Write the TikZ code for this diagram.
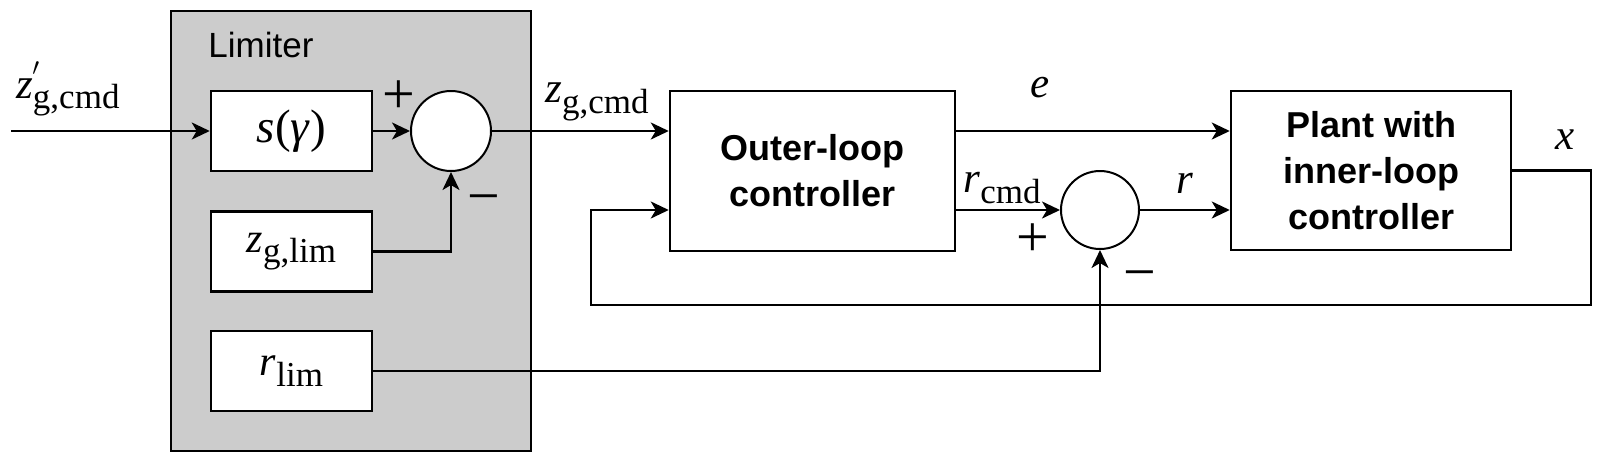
\documentclass[tikz,border=0pt]{standalone}
\usepackage{fontspec}
\setmainfont{Liberation Serif}
\newfontfamily\hv{Liberation Sans}
\usetikzlibrary{arrows.meta}
\definecolor{limgray}{HTML}{CCCCCC}
\newcommand\vsub[2]{{\itshape #1}\raisebox{-0.25em}{\fontsize{35}{35}\selectfont #2}}
\begin{document}
\begin{tikzpicture}[x=1pt,y=-1pt, line width=2.5pt,
  >={Stealth[length=18pt,width=17pt,inset=5pt]},
  blk/.style={draw, fill=white, minimum width=161pt, minimum height=80pt, inner sep=0pt, font=\fontsize{42}{42}\selectfont},
  sumc/.style={draw, circle, fill=white, minimum size=80pt, inner sep=0pt, line width=2pt},
  lbl/.style={inner sep=0pt, font=\fontsize{43}{43}\selectfont},
  sgn/.style={inner sep=0pt, font=\fontsize{58}{58}\selectfont},
  boldtxt/.style={draw, fill=white, inner sep=0pt, align=center, font=\hv\bfseries\fontsize{36}{46}\selectfont}]
\useasboundingbox (0,0) rectangle (1608,466);
% limiter
\node[draw, fill=limgray, minimum width=360pt, minimum height=440pt, inner sep=0pt] (lim) at (351,231) {};
\node[inner sep=0pt, font=\hv\fontsize{35}{35}\selectfont] (limlbl) at (261,45) {Limiter};
\node[blk, font=\fontsize{47}{47}\selectfont] (sbox) at (291.5,131) {{\itshape s}(\textit{γ})};
\node[blk] (zbox) at (291.5,251.5) {\vsub{z}{g,lim}};
\node[blk] (rbox) at (291.5,371) {\vsub{r}{lim}};
\node[sumc] (sum1) at (451,131) {};
% controllers
\node[boldtxt, minimum width=285pt, minimum height=160pt] (outer) at (812.5,171) {Outer-loop\\controller};
\node[boldtxt, minimum width=280pt, minimum height=159pt] (plant) at (1371,170.5) {Plant with\\inner-loop\\controller};
\node[sumc, minimum size=78pt] (sum2) at (1100,210) {};
% coordinates
\coordinate (in) at (11,131);
\coordinate (c1) at (1591,305);
\coordinate (c2) at (591,305);
% connectors
\draw[->] (in) -- (sbox.west);
\draw[->] (sbox.east) -- (sum1.west);
\draw[->] (zbox.east) -| (sum1.south);
\draw[->] (sum1.east) -- (sum1.east -| outer.west);
\draw[->] (sum1.east -| outer.east) -- (sum1.east -| plant.west);
\draw[->] (sum2.west -| outer.east) -- (sum2.west);
\draw[->] (sum2.east) -- (sum2.east -| plant.west);
\draw[->] (plant.east) -| (c1) -- (c2) |- (sum2 -| outer.west);
\draw[->] (rbox.east) -| (sum2.south);
% labels
\node[lbl, anchor=base west] (lzin) at (15,98) {\vsub{z}{g,cmd}};
\node[inner sep=0pt, anchor=base west, font=\fontsize{42}{42}\selectfont] (lzp) at (31,75) {$\prime$};
\node[sgn] (p1) at (399,97) {+};
\node[sgn] (m1) at (484,205) {−};
\node[lbl] (lzc) at (597,102) {\vsub{z}{g,cmd}};
\node[lbl] (le) at (1040,88) {\textit{e}};
\node[lbl] (lrc) at (1002,188) {\vsub{r}{cmd}};
\node[sgn] (p2) at (1033,240) {+};
\node[sgn] (m2) at (1140,281) {−};
\node[lbl] (lr) at (1185,183) {\textit{r}};
\node[lbl] (lx) at (1565,140) {\textit{x}};
\end{tikzpicture}
\end{document}
